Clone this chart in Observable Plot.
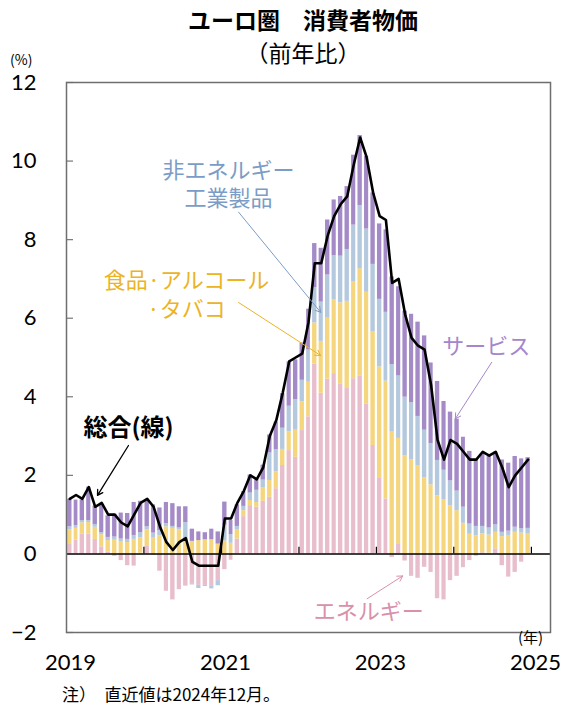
<!DOCTYPE html>
<html><head><meta charset="utf-8">
<script src="https://cdn.jsdelivr.net/npm/d3@7"></script>
<script src="https://cdn.jsdelivr.net/npm/@observablehq/plot@0.6"></script>
<style>
body{margin:0;background:#fff;}
#wrap{position:relative;width:561px;height:708px;font-family:"Noto Sans CJK JP",sans-serif;color:#000;}
#wrap svg{position:absolute;left:0;top:0;}
.t{position:absolute;white-space:nowrap;line-height:1;}
</style></head><body>
<div id="wrap">
</div>
<script>
// ---- data (percentage-point contributions, monthly Jan 2019 – Dec 2024) ----
const energy = [
0.26,0.35,0.51,0.51,0.37,0.18,0.05,-0.06,-0.17,-0.30,-0.31,0.02,
0.19,-0.03,-0.44,-0.95,-1.17,-0.91,-0.82,-0.76,-0.80,-0.80,-0.81,-0.68,
-0.40,-0.16,0.38,0.95,1.23,1.19,1.34,1.44,1.66,2.25,2.63,2.46,
3.14,3.49,4.83,4.09,4.45,4.59,4.33,4.23,4.46,4.52,3.82,2.76,
1.94,1.40,-0.09,0.24,-0.18,-0.57,-0.62,-0.34,-0.47,-1.14,-1.17,-0.68,
-0.57,-0.35,-0.17,-0.06,0.03,0.02,0.13,-0.30,-0.59,-0.47,-0.21,0.01];
const food = [
0.35,0.30,0.28,0.29,0.31,0.31,0.29,0.35,0.30,0.29,0.37,0.39,
0.42,0.40,0.46,0.69,0.65,0.61,0.38,0.32,0.34,0.36,0.36,0.25,
0.33,0.27,0.24,0.15,0.13,0.12,0.35,0.43,0.43,0.41,0.48,0.69,
0.73,0.88,1.05,1.32,1.55,1.87,2.06,2.20,2.46,2.74,2.84,2.90,
2.82,3.00,3.10,2.70,2.50,2.40,2.25,1.94,1.76,1.48,1.38,1.22,
1.10,0.78,0.50,0.46,0.48,0.46,0.42,0.44,0.47,0.55,0.53,0.51];
const neig = [
0.08,0.07,0.06,0.05,0.07,0.05,0.08,0.08,0.08,0.08,0.10,0.13,
0.08,0.13,0.13,0.08,0.05,0.05,0.42,-0.03,-0.08,-0.03,-0.08,-0.13,
0.40,0.22,0.08,0.11,0.19,0.31,0.19,0.70,0.56,0.54,0.65,0.78,
0.55,0.82,0.90,1.00,1.10,1.13,1.19,1.32,1.45,1.61,1.61,1.71,
1.72,1.75,1.72,1.59,1.49,1.45,1.25,1.21,1.05,0.90,0.75,0.64,
0.50,0.41,0.26,0.24,0.19,0.18,0.19,0.11,0.11,0.13,0.11,0.13];
const services = [
0.70,0.65,0.52,0.85,0.47,0.72,0.55,0.58,0.66,0.66,0.84,0.80,
0.67,0.72,0.58,0.54,0.58,0.54,0.40,0.31,0.22,0.18,0.27,0.31,
0.59,0.36,0.55,0.38,0.46,0.29,0.38,0.46,0.71,0.88,1.13,1.01,
0.95,1.04,1.12,1.37,1.40,1.42,1.52,1.60,1.78,1.78,1.85,1.82,
1.92,2.10,2.23,2.27,2.19,2.25,2.40,2.40,2.05,2.01,1.75,1.75,
1.83,1.78,1.85,1.70,1.85,1.82,1.85,1.84,1.73,1.80,1.78,1.80];
const headline = [
1.4,1.5,1.4,1.7,1.2,1.3,1.0,1.0,0.8,0.7,1.0,1.3,
1.4,1.2,0.7,0.3,0.1,0.3,0.4,-0.2,-0.3,-0.3,-0.3,-0.3,
0.9,0.9,1.3,1.6,2.0,1.9,2.2,3.0,3.4,4.1,4.9,5.0,
5.1,5.9,7.4,7.4,8.1,8.6,8.9,9.1,9.9,10.6,10.1,9.2,
8.6,8.5,6.9,7.0,6.1,5.5,5.3,5.2,4.3,2.9,2.4,2.9,
2.8,2.6,2.4,2.4,2.6,2.5,2.6,2.2,1.7,2.0,2.2,2.4];
const seriesKeys = ["energy","food","neig","services"];
const seriesNames = ["エネルギー","食品·アルコール·タバコ","非エネルギー工業製品","サービス"];
const xLabelYears = [2019, 2021, 2023, 2025];
const xTickYears = [2020, 2021, 2022, 2023, 2024, 2025];
const yTicks = [-2, 0, 2, 4, 6, 8, 10, 12];

// ---- styles ----
const barColors = ["#e8bdcc","#f5d67e","#b5c9de","#a48bc8"];

const utc = (y, m = 0, d = 1) => new Date(Date.UTC(y, m, d));
const yd = v => new Date(Date.UTC(Math.floor(v), 0, 1) + (v - Math.floor(v)) * 365.25 * 864e5);
const dates = d3.utcMonth.range(utc(2019, 0), utc(2025, 0));
const byKey = {energy, food, neig, services};
const rows = seriesKeys.flatMap(k => dates.map((d, i) => ({date: d, key: k, value: byKey[k][i]})));
const lineRows = dates.map((d, i) => ({mid: new Date((+d + +d3.utcMonth.offset(d, 1)) / 2), value: headline[i]}));

// annotations (label placement)
const boldNotes = [
  {text: "総合(線)", x: yd(2019.80), y: 3.19, color: "#000"}
];
const notes = [
  {text: "非エネルギー\n工業製品", x: yd(2021.09), y: 9.45, color: "#7b9cc6"},
  {text: "食品·アルコール\n·タバコ", x: yd(2020.55), y: 6.64, color: "#ebb425"},
  {text: "サービス", x: yd(2024.42), y: 5.31, color: "#a586cc"},
  {text: "エネルギー", x: yd(2022.90), y: -1.42, color: "#d990ab"}
];
const arrows = [
  {x1: yd(2019.80), y1: 2.76, x2: yd(2019.40), y2: 1.49, color: "#000", w: 1.3},
  {x1: yd(2021.22), y1: 8.70, x2: yd(2022.28), y2: 6.15, color: "#7b9cc6", w: 1},
  {x1: yd(2021.22), y1: 6.40, x2: yd(2022.28), y2: 5.05, color: "#ebb425", w: 1},
  {x1: yd(2024.49), y1: 4.88, x2: yd(2024.02), y2: 3.44, color: "#a586cc", w: 1},
  {x1: yd(2022.88), y1: -1.14, x2: yd(2023.34), y2: -0.56, color: "#d990ab", w: 1}
];

const chart = Plot.plot({
  width: 561, height: 708,
  marginLeft: 66, marginRight: 11, marginTop: 82, marginBottom: 76,
  style: {fontFamily: "Lato, 'Noto Sans', sans-serif", fontSize: "22px", color: "#000", background: "transparent", overflow: "visible"},
  x: {type: "utc", domain: [utc(2019, 0, 1), utc(2025, 3, 1)]},
  y: {domain: [-2, 12]},
  color: {domain: seriesKeys, range: barColors},
  marks: [
    Plot.rectY(rows, {x: "date", interval: "month", y: "value", fill: "key", order: seriesKeys, insetLeft: 1.1, insetRight: 1.1}),
    Plot.ruleY([0], {stroke: "#000", strokeWidth: 1.5}),
    Plot.ruleX(xTickYears.map(y => utc(y)), {x: d => d, y1: 0, y2: 0.17, stroke: "#000", strokeWidth: 1.2}),
    Plot.ruleY(yTicks.filter(v => v !== 0), {y: d => d, x1: utc(2019, 0, 1), x2: utc(2019, 1, 3), stroke: "#777", strokeWidth: 1.2}),
    Plot.line(lineRows, {x: "mid", y: "value", stroke: "#000", strokeWidth: 2.6, strokeLinejoin: "round"}),
    Plot.frame({stroke: "#6e6e6e", strokeWidth: 1.5}),
    Plot.axisX({ticks: xLabelYears.map(y => utc(y)), tickFormat: d3.utcFormat("%Y"), tickSize: 0, tickPadding: 22, fontSize: 22, dx: 4, label: null}),
    Plot.axisY({ticks: yTicks, tickSize: 0, tickPadding: 30, fontSize: 22, label: null}),
    Plot.arrow(arrows, {x1: "x1", y1: "y1", x2: "x2", y2: "y2", stroke: "color", strokeWidth: "w", headLength: 9}),
    Plot.text(notes, {x: "x", y: "y", text: "text", fill: "color", fontSize: 22, lineHeight: 1.3, fontFamily: "'Noto Sans CJK JP', sans-serif"}),
    Plot.text(boldNotes, {x: "x", y: "y", text: "text", fill: "color", fontSize: 24, fontWeight: "bold", fontFamily: "'Noto Sans CJK JP', sans-serif"})
  ]
});

const wrap = document.getElementById("wrap");
wrap.appendChild(chart);
const add = (txt, css) => { const e = document.createElement("div"); e.className = "t"; e.textContent = txt; e.style.cssText += css; wrap.appendChild(e); };
add("ユーロ圏　消費者物価", "left:0;width:606px;text-align:center;top:8px;font-size:23px;font-weight:bold;");
add("（前年比）", "left:0;width:606px;text-align:center;top:41px;font-size:23px;");
add("(%)", "left:10px;top:52px;font-size:14px;");
add("(年)", "left:518px;top:629px;font-size:15px;");
add("注）　直近値は2024年12月。", "left:62px;top:685px;font-size:17px;");
</script>
</body></html>
